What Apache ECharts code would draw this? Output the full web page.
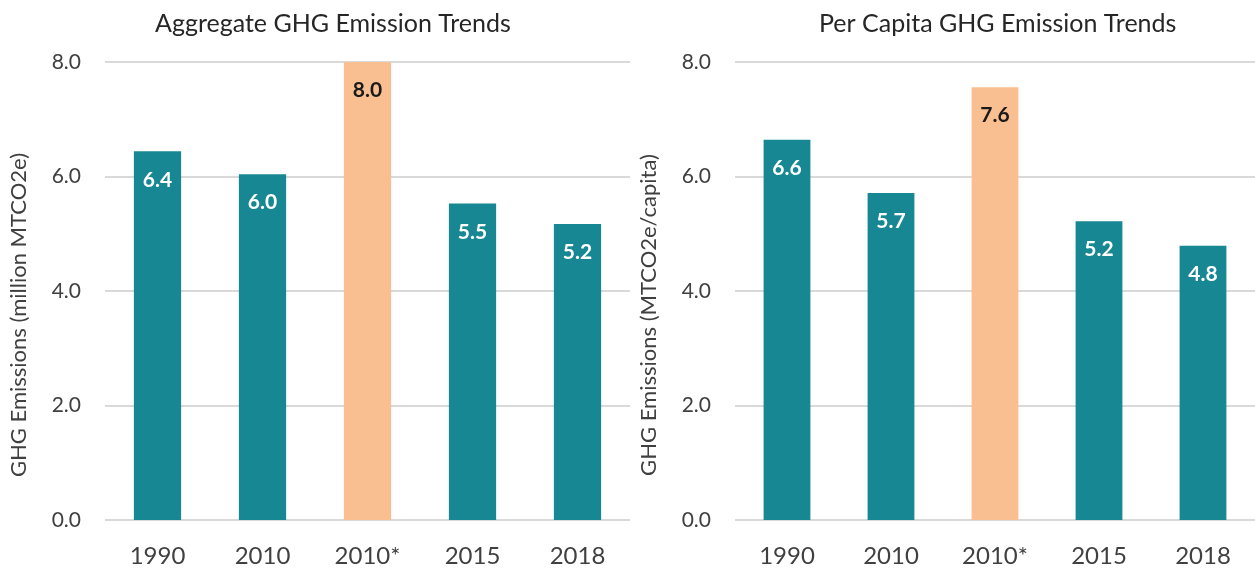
<!DOCTYPE html>
<html>
<head>
<meta charset="utf-8">
<script src="https://cdn.jsdelivr.net/npm/echarts@6/dist/echarts.min.js"></script>
<style>
html, body { margin: 0; padding: 0; background: #fff; }
#chart { width: 1255px; height: 569px; }
</style>
</head>
<body>
<div id="chart"></div>
<script>
// 数据
let categories = ['1990', '2010', '2010*', '2015', '2018'];
let aggregateValues = [6.44, 6.04, 8.0, 5.53, 5.17];
let perCapitaValues = [6.64, 5.71, 7.56, 5.22, 4.79];
let highlightIndex = 2;

let tealColor = '#178793';
let orangeColor = '#F9BF91';
let textColor = '#404040';
let gridColor = '#D9D9D9';
let fontName = 'Lato';

function buildData(values) {
    let list = [];
    for (let i = 0; i < values.length; i++) {
        let hl = i === highlightIndex;
        list.push({
            value: values[i],
            itemStyle: { color: hl ? orangeColor : tealColor },
            label: { color: hl ? '#1a1a1a' : '#ffffff' }
        });
    }
    return list;
}

function xAxisOpt(gridIndex) {
    return {
        type: 'category',
        gridIndex: gridIndex,
        data: categories,
        axisLine: { show: false },
        axisTick: { show: false },
        axisLabel: { color: textColor, fontSize: 24, fontFamily: fontName, margin: 24 }
    };
}

function yAxisOpt(gridIndex, name) {
    return {
        type: 'value',
        gridIndex: gridIndex,
        min: 0,
        max: 8,
        interval: 2,
        name: name,
        nameLocation: 'middle',
        nameGap: 75,
        nameTextStyle: { color: textColor, fontSize: 22, fontFamily: fontName, padding: [0, 48, 0, 0] },
        axisLine: { show: false },
        axisTick: { show: false },
        axisLabel: {
            color: textColor, fontSize: 21, fontFamily: fontName, margin: 24,
            formatter: function (v) { return v.toFixed(1); }
        },
        splitLine: { lineStyle: { color: gridColor, width: 2 } }
    };
}

function seriesOpt(index, values) {
    return {
        type: 'bar',
        xAxisIndex: index,
        yAxisIndex: index,
        barWidth: '45%',
        data: buildData(values),
        label: {
            show: true,
            position: 'insideTop',
            distance: 18,
            fontSize: 21,
            fontWeight: 'bold',
            fontFamily: fontName,
            formatter: function (p) { return p.value.toFixed(1); }
        }
    };
}

let chart = echarts.init(document.getElementById('chart'));
chart.setOption({
    animation: false,
    title: [
        {
            text: 'Aggregate GHG Emission Trends',
            left: 150, top: 6,
            textStyle: { color: '#262626', fontSize: 25, fontWeight: 'normal', fontFamily: fontName }
        },
        {
            text: 'Per Capita GHG Emission Trends',
            left: 814, top: 6,
            textStyle: { color: '#262626', fontSize: 25, fontWeight: 'normal', fontFamily: fontName }
        }
    ],
    grid: [
        { left: 105, top: 62, width: 525, height: 458 },
        { left: 735, top: 62, width: 522, height: 458 }
    ],
    xAxis: [xAxisOpt(0), xAxisOpt(1)],
    yAxis: [
        yAxisOpt(0, 'GHG Emissions (million MTCO2e)'),
        yAxisOpt(1, 'GHG Emissions (MTCO2e/capita)')
    ],
    series: [
        seriesOpt(0, aggregateValues),
        seriesOpt(1, perCapitaValues)
    ]
});
</script>
</body>
</html>
